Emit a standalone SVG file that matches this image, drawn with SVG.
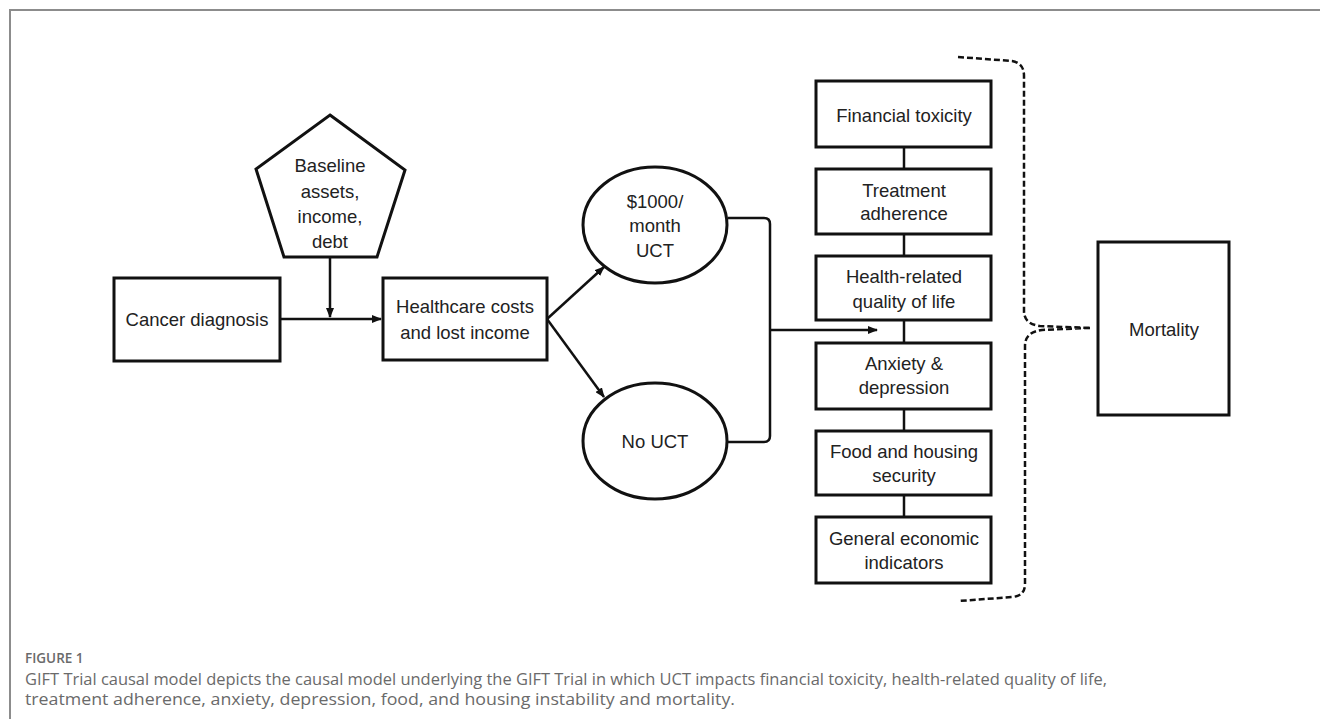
<svg xmlns="http://www.w3.org/2000/svg" width="1320" height="719" viewBox="0 0 1320 719">
<defs>
<marker id="arr" markerWidth="10" markerHeight="8" refX="9" refY="4" orient="auto" markerUnits="userSpaceOnUse">
<path d="M0,0 L10,4 L0,8 Z" fill="#111"/>
</marker>
<style>
.box{fill:#fff;stroke:#111;stroke-width:3}
.lbl{font-family:"Liberation Sans",Arial,sans-serif;font-size:18.5px;fill:#222;text-anchor:middle}
.con{fill:none;stroke:#111;stroke-width:2.5}
.cap{font-family:"Open Sans","Liberation Sans",Arial,sans-serif;fill:#6a6a6a}
</style>
</defs>
<rect x="0" y="0" width="1320" height="719" fill="#fff"/>
<path d="M10,730 L10,10 L1330,10" fill="none" stroke="#8c8c8c" stroke-width="2"/>

<g id="connectors">
<line class="con" x1="330" y1="257" x2="330" y2="317" marker-end="url(#arr)"/>
<line class="con" x1="280" y1="319" x2="381" y2="319" marker-end="url(#arr)"/>
<line class="con" x1="547" y1="319" x2="604" y2="267" marker-end="url(#arr)"/>
<line class="con" x1="547" y1="319" x2="604" y2="397" marker-end="url(#arr)"/>
<path class="con" d="M728,218 L764,218 Q770,218 770,224 L770,436 Q770,442 764,442 L728,442"/>
<line class="con" x1="770" y1="330" x2="877" y2="330" marker-end="url(#arr)"/>
<line class="con" x1="904" y1="147" x2="904" y2="169"/>
<line class="con" x1="904" y1="234" x2="904" y2="256"/>
<line class="con" x1="904" y1="320" x2="904" y2="343"/>
<line class="con" x1="904" y1="409" x2="904" y2="431"/>
<line class="con" x1="904" y1="495" x2="904" y2="517"/>
<path d="M958,57 L1012,61 Q1024,63 1024,76 L1024,311 Q1024,324 1040,326 L1090,328 M1090,328 L1042,330 Q1025,332 1025,346 L1025,584 Q1025,596 1012,597 L959,601" fill="none" stroke="#111" stroke-width="2.5" stroke-dasharray="6,3"/>
</g>

<g id="baseline">
<polygon class="box" points="330,115 405,170 377,257 284,257 256,169"/>
<text class="lbl" x="330" y="172">Baseline</text>
<text class="lbl" x="330" y="198">assets,</text>
<text class="lbl" x="330" y="223">income,</text>
<text class="lbl" x="330" y="248">debt</text>
</g>
<g id="cancer">
<rect class="box" x="114" y="278" width="166" height="83"/>
<text class="lbl" x="197" y="326">Cancer diagnosis</text>
</g>
<g id="healthcare">
<rect class="box" x="383" y="278" width="164" height="82"/>
<text class="lbl" x="465" y="313">Healthcare costs</text>
<text class="lbl" x="465" y="339">and lost income</text>
</g>
<g id="uct">
<ellipse class="box" cx="655" cy="225" rx="72" ry="58" stroke-width="2.5"/>
<text class="lbl" x="655" y="208">$1000/</text>
<text class="lbl" x="655" y="232">month</text>
<text class="lbl" x="655" y="257">UCT</text>
</g>
<g id="nouct">
<ellipse class="box" cx="655" cy="441" rx="72" ry="58" stroke-width="2.5"/>
<text class="lbl" x="655" y="448">No UCT</text>
</g>
<g id="fintox">
<rect class="box" x="816" y="81" width="175" height="66"/>
<text class="lbl" x="904" y="122">Financial toxicity</text>
</g>
<g id="adherence">
<rect class="box" x="816" y="169" width="175" height="65"/>
<text class="lbl" x="904" y="197">Treatment</text>
<text class="lbl" x="904" y="220">adherence</text>
</g>
<g id="hrqol">
<rect class="box" x="816" y="256" width="175" height="64"/>
<text class="lbl" x="904" y="283">Health-related</text>
<text class="lbl" x="904" y="308">quality of life</text>
</g>
<g id="anxiety">
<rect class="box" x="816" y="343" width="175" height="66"/>
<text class="lbl" x="904" y="370">Anxiety &amp;</text>
<text class="lbl" x="904" y="394">depression</text>
</g>
<g id="food">
<rect class="box" x="816" y="431" width="175" height="64"/>
<text class="lbl" x="904" y="458">Food and housing</text>
<text class="lbl" x="904" y="482">security</text>
</g>
<g id="economic">
<rect class="box" x="816" y="517" width="175" height="66"/>
<text class="lbl" x="904" y="545">General economic</text>
<text class="lbl" x="904" y="569">indicators</text>
</g>
<g id="mortality">
<rect class="box" x="1098" y="242" width="131" height="173"/>
<text class="lbl" x="1164" y="336">Mortality</text>
</g>

<g id="caption">
<text class="cap" x="25" y="663" font-size="13.5" font-weight="600" fill="#555">FIGURE 1</text>
<text class="cap" x="25" y="685" font-size="16" textLength="1082" lengthAdjust="spacingAndGlyphs">GIFT Trial causal model depicts the causal model underlying the GIFT Trial in which UCT impacts financial toxicity, health-related quality of life,</text>
<text class="cap" x="25" y="705" font-size="16" textLength="710" lengthAdjust="spacingAndGlyphs">treatment adherence, anxiety, depression, food, and housing instability and mortality.</text>
</g>
</svg>
